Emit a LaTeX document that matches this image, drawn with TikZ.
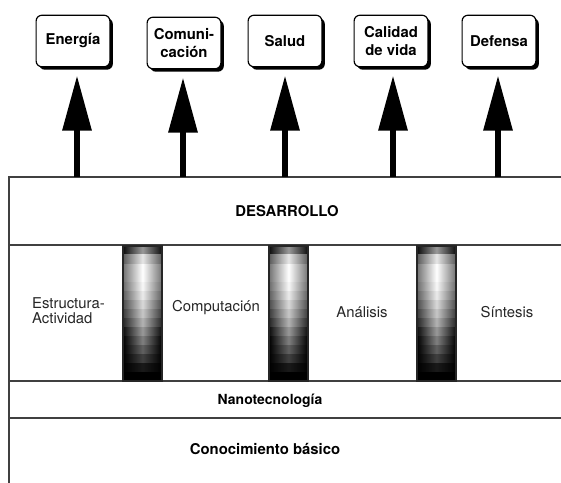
\documentclass[tikz,border=0pt]{standalone}
\usepackage{fontspec}
\setmainfont{TeX Gyre Heros}
\usetikzlibrary{arrows.meta,shadows}

\tikzset{
  caja/.style={draw, line width=1pt, rounded corners=5pt, fill=white,
    minimum width=63pt, minimum height=44pt, align=center, inner sep=2pt,
    font=\fontsize{12.7}{15.5}\selectfont\bfseries,
    drop shadow={shadow xshift=2.5pt, shadow yshift=-2.5pt, fill=black, opacity=1}},
  flecha/.style={line width=5pt, -{Triangle[length=47pt,width=24pt]}, shorten >=7pt},
  linea/.style={line width=1.1pt, black!75},
  etiqueta/.style={font=\fontsize{12.7}{13}\selectfont, text=black!85, align=center},
  titulo/.style={font=\fontsize{12.7}{15}\selectfont\bfseries},
}

\begin{document}
\begin{tikzpicture}[x=0.03cm, y=-0.03cm]
    \useasboundingbox (0,0) rectangle (561,483);

    % cajas superiores
    \node[caja] (e1) at (73,41) {Energía};
    \node[caja] (e2) at (184,43) {Comuni-\\cación};
    \node[caja] (e3) at (285,41) {Salud};
    \node[caja] (e4) at (391,41) {Calidad\\de vida};
    \node[caja] (e5) at (499,41) {Defensa};

    % marco de capas
    \draw[linea] (9,483) -- (9,177) -- (561,177);
    \draw[linea] (9,245) -- (561,245);
    \draw[linea] (9,381) -- (561,381);
    \draw[linea] (9,418) -- (561,418);

    % flechas hacia las cajas
    \coordinate (b1) at (77,177);
    \coordinate (b2) at (183,177);
    \coordinate (b3) at (285,177);
    \coordinate (b4) at (393,177);
    \coordinate (b5) at (498,177);
    \foreach \i in {1,...,5}
        \draw[flecha] (b\i) -- (b\i |- e\i.south);

    % barras sombreadas
    \foreach \xb in {123,269,417} {
        \foreach \c [count=\i from 0] in {40,10,0,0,3,8,15,22,30,40,50,62,75,90,100} {
            \pgfmathtruncatemacro\e{min(100,\c+55)}
            \shade[left color=black!\e, right color=black!\e, middle color=black!\c]
                (\xb,246+\i*9) rectangle (\xb+39,255+\i*9);
        }
        \draw[line width=1pt, black!85] (\xb,246) rectangle (\xb+39,381);
    }

    % textos
    \node[titulo] (des) at (287,211) {DESARROLLO};
    \node[etiqueta, anchor=west, align=left] (ea) at (28,311) {Estructura-\\Actividad};
    \node[etiqueta] (co) at (216,308) {Computación};
    \node[etiqueta] (an) at (362,312) {Análisis};
    \node[etiqueta] (si) at (507,312) {Síntesis};
    \node[titulo, font=\fontsize{11.9}{14}\selectfont\bfseries] (na) at (270,401) {Nanotecnología};
    \node[titulo] (cb) at (265,449) {Conocimiento básico};

\end{tikzpicture}
\end{document}
